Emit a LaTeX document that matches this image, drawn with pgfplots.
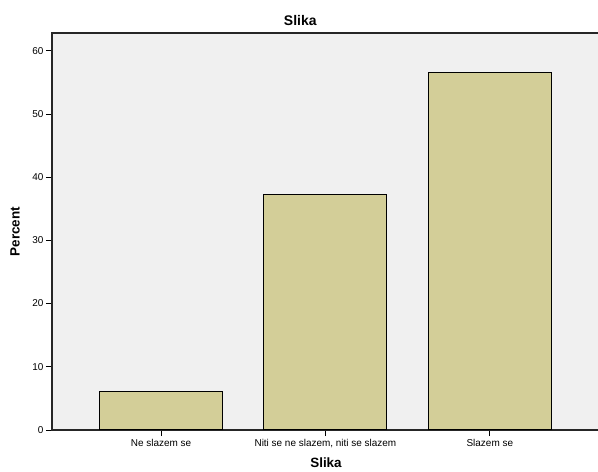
\documentclass[border=0pt]{standalone}
\usepackage{pgfplots}
\pgfplotsset{compat=1.18}
\usepackage{fontspec}
\setmainfont{Liberation Sans}
\definecolor{barfill}{HTML}{D3CE98}
\definecolor{plotbg}{HTML}{F0F0F0}
\begin{document}
\begin{tikzpicture}
\useasboundingbox (-52bp,-42bp) rectangle (546bp,430bp);
\begin{axis}[
  at={(0,0)}, anchor=south west,
  scale only axis, width=548bp, height=397bp,
  xmin=-0.663, xmax=2.67, ymin=0, ymax=62.8,
  axis background/.style={fill=plotbg},
  axis line style={black!85, line width=1.1pt},
  ybar, bar width=0.748,
  ytick={0,10,20,30,40,50,60},
  xtick={0,1,2},
  xticklabels={Ne slazem se, {Niti se ne slazem, niti se slazem}, Slazem se},
  xtick pos=lower, ytick pos=left,
  tick align=outside, major tick length=6bp,
  tick style={black, line width=0.8pt},
  ticklabel style={font=\fontsize{10}{11}\selectfont},
  yticklabel style={xshift=1bp},
  /pgf/number format/assume math mode=true,
  title={Slika},
  title style={font=\bfseries\fontsize{14}{16}\selectfont, at={(axis description cs:0.453,1)}, anchor=base, yshift=2bp},
  xlabel={Slika},
  xlabel style={font=\bfseries\fontsize{13.5}{16}\selectfont, at={(axis description cs:0.5,0)}, anchor=base, yshift=-37bp},
  ylabel={Percent},
  ylabel style={font=\bfseries\fontsize{13.5}{16}\selectfont, at={(axis description cs:-0.0676,0.5)}, anchor=center, rotate=0},
]
\addplot[fill=barfill, draw=black, line width=1.1pt] coordinates {(0,6.1) (1,37.3) (2,56.6)};
\end{axis}
\end{tikzpicture}
\end{document}
